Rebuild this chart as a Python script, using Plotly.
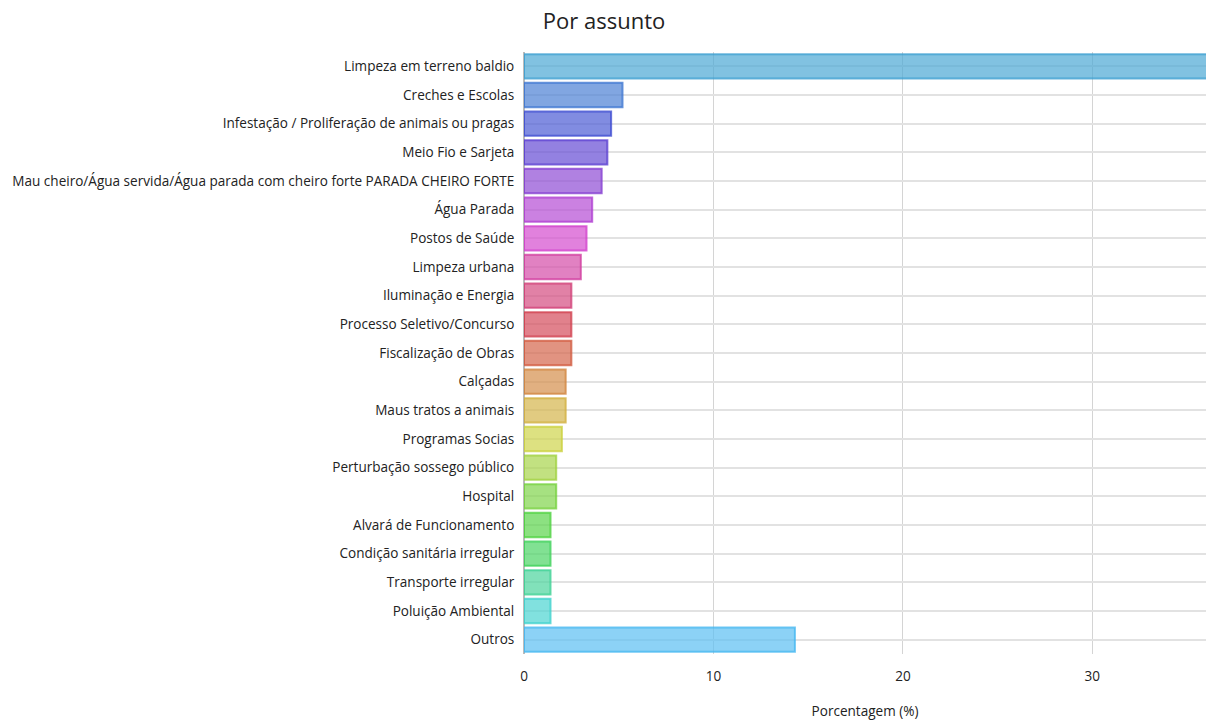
import plotly.graph_objects as go

categorias = [
    "Limpeza em terreno baldio",
    "Creches e Escolas",
    "Infestação / Proliferação de animais ou pragas",
    "Meio Fio e Sarjeta",
    "Mau cheiro/Água servida/Água parada com cheiro forte PARADA CHEIRO FORTE",
    "Água Parada",
    "Postos de Saúde",
    "Limpeza urbana",
    "Iluminação e Energia",
    "Processo Seletivo/Concurso",
    "Fiscalização de Obras",
    "Calçadas",
    "Maus tratos a animais",
    "Programas Socias",
    "Perturbação sossego público",
    "Hospital",
    "Alvará de Funcionamento",
    "Condição sanitária irregular",
    "Transporte irregular",
    "Poluição Ambiental",
    "Outros",
]

porcentagens = [36.5, 5.2, 4.6, 4.4, 4.1, 3.6, 3.3, 3.0, 2.5, 2.5, 2.5,
                2.2, 2.2, 2.0, 1.7, 1.7, 1.4, 1.4, 1.4, 1.4, 14.3]

matizes = [200, 217, 234, 251, 269, 286, 303, 320, 337, 354, 11,
           29, 46, 63, 80, 97, 114, 131, 155, 178, 200]
saturacoes = [62] * 20 + [85]
luminosidades = [58] * 20 + [66]

cores_preench = [f"hsla({h}, {s}%, {l}%, 0.72)" for h, s, l in zip(matizes, saturacoes, luminosidades)]
cores_linha = [f"hsla({h}, {s}%, {l - 6}%, 0.75)" for h, s, l in zip(matizes, saturacoes, luminosidades)]

fig = go.Figure(
    go.Bar(
        x=porcentagens,
        y=categorias,
        orientation="h",
        marker=dict(color=cores_preench, line=dict(color=cores_linha, width=2)),
    )
)

fig.update_layout(
    width=1208,
    height=720,
    title=dict(text="Por assunto", x=0.5, xanchor="center", y=0.97, yanchor="middle",
               font=dict(family="Open Sans", size=22, color="#222")),
    font=dict(family="Open Sans", size=13.55, color="#222"),
    margin=dict(l=524, r=2, t=52, b=66, autoexpand=False),
    plot_bgcolor="white",
    paper_bgcolor="white",
    bargap=0.15,
    showlegend=False,
)

fig.update_xaxes(
    range=[0, 36],
    tickvals=[0, 10, 20, 30],
    showgrid=True,
    gridcolor="#d4d4d4",
    zeroline=True,
    zerolinecolor="#bbbbbb",
    zerolinewidth=2,
    title=dict(text="Porcentagem (%)", font=dict(size=13.55, color="#222"), standoff=24),
    ticks="outside",
    ticklen=10,
    tickcolor="rgba(0,0,0,0)",
    tickfont=dict(size=13.55, color="#222"),
)

fig.update_yaxes(
    categoryorder="array",
    categoryarray=categorias,
    autorange="reversed",
    showgrid=True,
    gridcolor="#e2e2e2",
    gridwidth=2,
    ticks="outside",
    ticklen=6,
    tickcolor="rgba(0,0,0,0)",
    tickfont=dict(size=13.55, color="#222"),
)

fig.write_html("out.html")
